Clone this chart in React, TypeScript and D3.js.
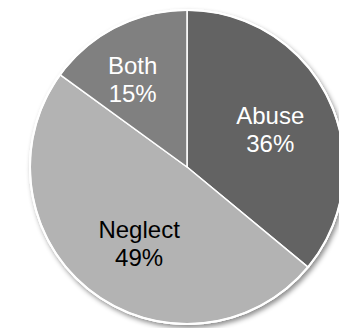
import React from "react";
import * as d3 from "d3";

const categories = ["Abuse", "Neglect", "Both"];
const values = [36, 49, 15];
const percentLabels = ["36%", "49%", "15%"];

const colors = ["#636363", "#b3b3b3", "#808080"];
const textColors = ["#ffffff", "#000000", "#ffffff"];
// label placement: radial fraction of radius and small nudges (layout only)
const labelRadius = [0.586, 0.56, 0.65];
const labelNudge: [number, number][] = [[0, 1], [6, 7], [-8, 3]];

export default function App() {
  const W = 339, H = 328;
  const cx = 187, cy = 167, r = 157;
  const pie = d3.pie<number>().sort(null).value((d) => d);
  const arcs = pie(values);
  const arc = d3.arc<d3.PieArcDatum<number>>().innerRadius(0).outerRadius(r);

  return (
    <svg width={W} height={H} style={{ position: "absolute", left: 0, top: 0, display: "block" }}>
      <defs>
        <filter id="sh" x="-20%" y="-20%" width="140%" height="140%">
          <feDropShadow dx="2" dy="3" stdDeviation="2.5" floodColor="#000" floodOpacity="0.45" />
        </filter>
      </defs>
      <rect width={W} height={H} fill="#fff" />
      <g transform={`translate(${cx},${cy})`}>
        <circle r={r + 1} fill="#fff" filter="url(#sh)" />
        {arcs.map((a, i) => (
          <path key={i} d={arc(a) || ""} fill={colors[i]} stroke="#fff" strokeWidth={1.5} strokeLinejoin="round" />
        ))}
        <circle r={r} fill="none" stroke="#fff" strokeWidth={2} />
        {arcs.map((a, i) => {
          const la = d3.arc<d3.PieArcDatum<number>>().innerRadius(r * labelRadius[i]).outerRadius(r * labelRadius[i]);
          const [x, y] = la.centroid(a);
          const lx = x + labelNudge[i][0];
          const ly = y + labelNudge[i][1];
          return (
            <text key={i} textAnchor="middle" fill={textColors[i]} fontFamily="'Liberation Sans', Arial, sans-serif" fontSize={24}>
              <tspan x={lx} y={ly - 5}>{categories[i]}</tspan>
              <tspan x={lx} y={ly + 23}>{percentLabels[i]}</tspan>
            </text>
          );
        })}
      </g>
    </svg>
  );
}
